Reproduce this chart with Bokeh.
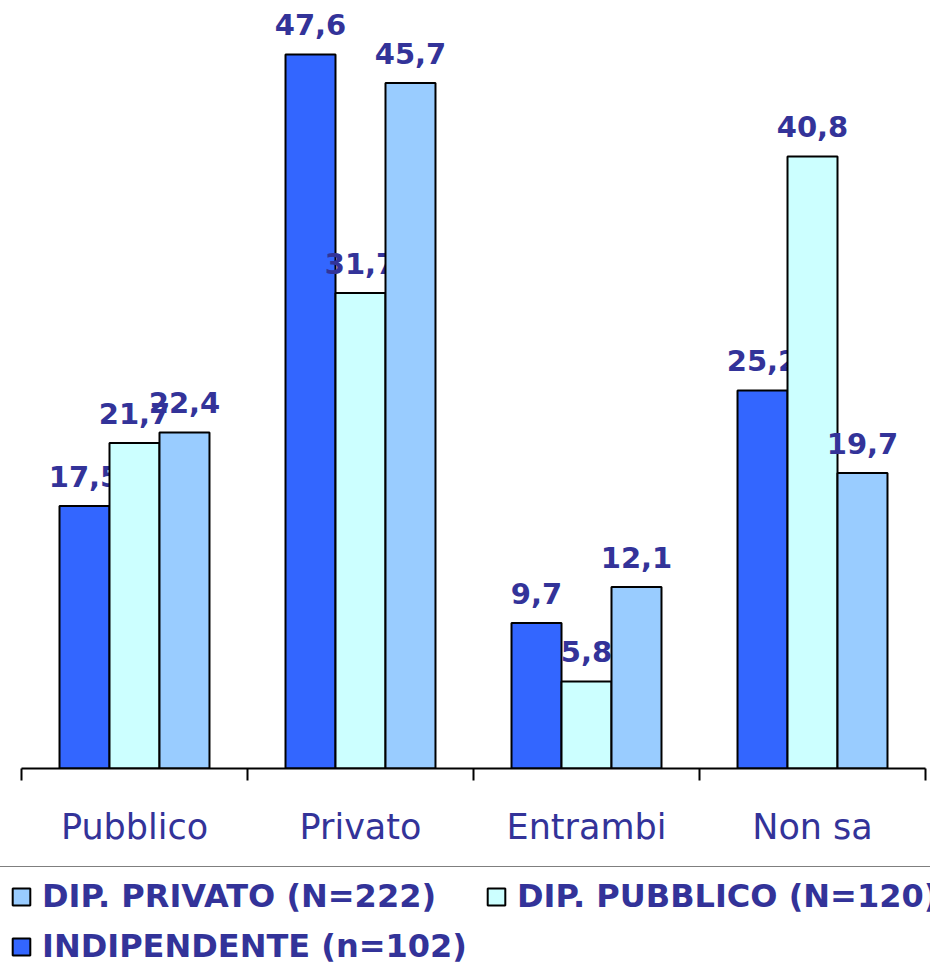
from bokeh.plotting import figure
from bokeh.layouts import column
from bokeh.models import (ColumnDataSource, FixedTicker, Legend, LegendItem, Range1d)
from bokeh.transform import dodge
from bokeh.core.properties import value
from bokeh.embed import file_html
from bokeh.resources import INLINE

categories = ["Pubblico", "Privato", "Entrambi", "Non sa"]
series_names = ["INDIPENDENTE (n=102)", "DIP. PUBBLICO (N=120)", "DIP. PRIVATO (N=222)"]
indipendente = [17.5, 47.6, 9.7, 25.2]
dip_pubblico = [21.7, 31.7, 5.8, 40.8]
dip_privato = [22.4, 45.7, 12.1, 19.7]

colors = ["#3366FF", "#CCFFFF", "#99CCFF"]
TEXT = "#333399"

def fmt(v):
    return ("%.1f" % v).replace(".", ",")

xs = list(range(len(categories)))
src = ColumnDataSource(dict(
    x=xs,
    ind=indipendente, pub=dip_pubblico, pri=dip_privato,
    ind_t=[fmt(v) for v in indipendente],
    pub_t=[fmt(v) for v in dip_pubblico],
    pri_t=[fmt(v) for v in dip_privato],
))

W = 930
p = figure(width=W, height=866, output_backend="svg", toolbar_location=None,
           x_range=Range1d(-0.5929, 3.5221), y_range=Range1d(0, 51.2),
           y_axis_location=None, min_border_left=0, min_border_right=0,
           min_border_top=0, min_border_bottom=98, outline_line_color=None,
           background_fill_color="white", border_fill_color="white")
p.xgrid.visible = False
p.ygrid.visible = False

bw = 0.2212
offs = [-bw, 0.0, bw]
cols = ["ind", "pub", "pri"]
for off, col, c in zip(offs, cols, colors):
    p.vbar(x=dodge("x", off), top=col, width=bw, source=src,
           fill_color=c, line_color="black", line_width=2)
    p.text(x=dodge("x", off), y=col, text=col + "_t", source=src,
           text_align="center", text_baseline="alphabetic", y_offset=-30,
           text_font=value("DejaVu Sans"), text_font_style="bold",
           text_font_size="29px", text_color=TEXT)

ax = p.xaxis[0]
ax.ticker = FixedTicker(ticks=xs, minor_ticks=[i - 0.5 for i in range(len(categories) + 1)])
ax.major_label_overrides = {i: c for i, c in enumerate(categories)}
ax.bounds = (-0.5, len(categories) - 0.5)
ax.axis_line_color = "black"
ax.axis_line_width = 2
ax.major_tick_out = 0
ax.major_tick_in = 0
ax.minor_tick_out = 12
ax.minor_tick_in = 0
ax.minor_tick_line_color = "black"
ax.minor_tick_line_width = 2
ax.major_label_text_font = "DejaVu Sans"
ax.major_label_text_font_size = "35px"
ax.major_label_text_color = TEXT
ax.major_label_standoff = 26

# legend panel: hidden bar renderers from the same data supply the legend swatches
lp = figure(width=W, height=99, output_backend="svg", toolbar_location=None,
            x_range=Range1d(-0.5929, 3.5221), y_range=Range1d(0, 51.2),
            x_axis_location=None, y_axis_location=None,
            min_border_left=0, min_border_right=0, min_border_top=0,
            min_border_bottom=0, outline_line_color=None,
            background_fill_color="white", border_fill_color="white")
lp.xgrid.visible = False
lp.ygrid.visible = False
leg_r = [lp.vbar(x=dodge("x", off), top=col, width=bw, source=src, fill_color=c,
                 line_color="black", line_width=2, visible=False)
         for off, col, c in zip(offs, cols, colors)]

legend = Legend(items=[
    LegendItem(label=series_names[2], renderers=[leg_r[2]]),
    LegendItem(label=series_names[1], renderers=[leg_r[1]]),
    LegendItem(label=series_names[0], renderers=[leg_r[0]]),
], orientation="horizontal", ncols=2, location=(-2, -12),
    border_line_color="black", border_line_width=2, background_fill_alpha=0,
    padding=10, margin=0, spacing=12, glyph_width=22, glyph_height=21,
    label_standoff=10, label_width=431, label_height=38,
    label_text_font="DejaVu Sans", label_text_font_style="bold",
    label_text_font_size="32px", label_text_color=TEXT)
lp.add_layout(legend, "center")

layout = column(p, lp, spacing=0)
open("out.html", "w").write(file_html(layout, INLINE))
